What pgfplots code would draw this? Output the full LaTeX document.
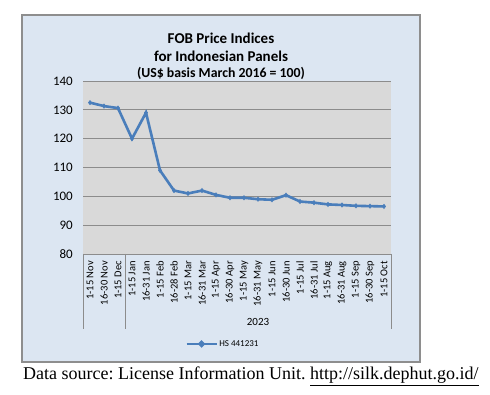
\documentclass[border=0pt]{standalone}
\usepackage{pgfplots}
\pgfplotsset{compat=1.18}
\usepackage{fontspec}
\setmainfont{Carlito}
\newfontfamily\seriffont{Liberation Serif}
\definecolor{bgblue}{HTML}{DCE6F2}
\definecolor{plotgray}{HTML}{D9D9D9}
\definecolor{linec}{HTML}{4A7EBB}
\definecolor{gridc}{HTML}{8C8C8C}
\definecolor{framec}{HTML}{8E8E8E}
\begin{document}
\frenchspacing
\begin{tikzpicture}[x=1pt,y=1pt]
\useasboundingbox (0,0) rectangle (490,395);
\fill[white] (0,0) rectangle (490,395);
\filldraw[fill=bgblue, draw=framec, line width=1.3pt] (22,33) rectangle (420,380);
\node[font=\bfseries\fontsize{15}{17}\selectfont] at (221,357) {FOB Price Indices};
\node[font=\bfseries\fontsize{15}{17}\selectfont] at (221,339) {for Indonesian Panels};
\node[font=\bfseries\fontsize{13.8}{15}\selectfont] at (221,322) {(US\$ basis March 2016 = 100)};
\begin{axis}[
  at={(83pt,141pt)}, anchor=south west,
  scale only axis, width=308pt, height=173pt,
  xmin=-0.5, xmax=21.5, ymin=80, ymax=140,
  ytick={80,90,...,140},
  xtick={0,...,21},
  xticklabels={1-15 Nov,16-30 Nov,1-15 Dec,1-15 Jan,16-31 Jan,1-15 Feb,16-28 Feb,1-15 Mar,16-31 Mar,1-15 Apr,16-30 Apr,1-15 May,16-31 May,1-15 Jun,16-30 Jun,1-15 Jul,16-31 Jul,1-15 Aug,16-31 Aug,1-15 Sep,16-30 Sep,1-15 Oct},
  axis background/.style={fill=plotgray},
  axis line style={draw=none},
  major tick length=0pt,
  ymajorgrids, grid style={gridc, line width=0.8pt},
  xticklabel style={font=\fontsize{10.5}{12}\selectfont, inner sep=0pt, yshift=-7pt, rotate=90, anchor=east},
  yticklabel style={font=\fontsize{13}{15}\selectfont, inner sep=0pt, xshift=-10pt},
  /pgf/number format/assume math mode=true,
  clip=false,
  legend style={at={(0.455,-0.52)}, anchor=center, draw=none, fill=none, font=\fontsize{9}{10}\selectfont, inner sep=0pt},
  legend image code/.code={\draw[linec, line width=1.5pt] (0pt,0pt) -- (30pt,0pt); \fill[linec] (15pt,0pt) +(-2pt,0) -- +(0,2pt) -- +(2pt,0) -- +(0,-2pt) -- cycle;},
]
\addplot[linec, line width=2.6pt, mark=diamond*, mark size=2.2pt, mark options={linec, line width=0.5pt}] coordinates {
(0,132.5) (1,131.3) (2,130.6) (3,120.0) (4,129.0) (5,109.0) (6,102.0) (7,101.0) (8,102.0) (9,100.5) (10,99.5) (11,99.5) (12,99.0) (13,98.8) (14,100.4) (15,98.2) (16,97.8) (17,97.2) (18,97.0) (19,96.7) (20,96.6) (21,96.5)
};
\addlegendentry{HS 441231}
\draw[gridc, line width=0.8pt] (axis cs:-0.5,80) -- (axis cs:21.5,80);
\end{axis}
\draw[gridc, line width=0.8pt] (83,141) -- (83,66);
\draw[gridc, line width=0.8pt] (125,141) -- (125,66);
\draw[gridc, line width=0.8pt] (391,141) -- (391,66);
\node[font=\fontsize{11}{12}\selectfont] at (258,73) {2023};
\node[font=\seriffont\fontsize{18}{19}\selectfont, anchor=base west, inner sep=0pt] at (23,15) {Data source: License Information Unit. \underline{http://silk.dephut.go.id/}};
\end{tikzpicture}
\end{document}
